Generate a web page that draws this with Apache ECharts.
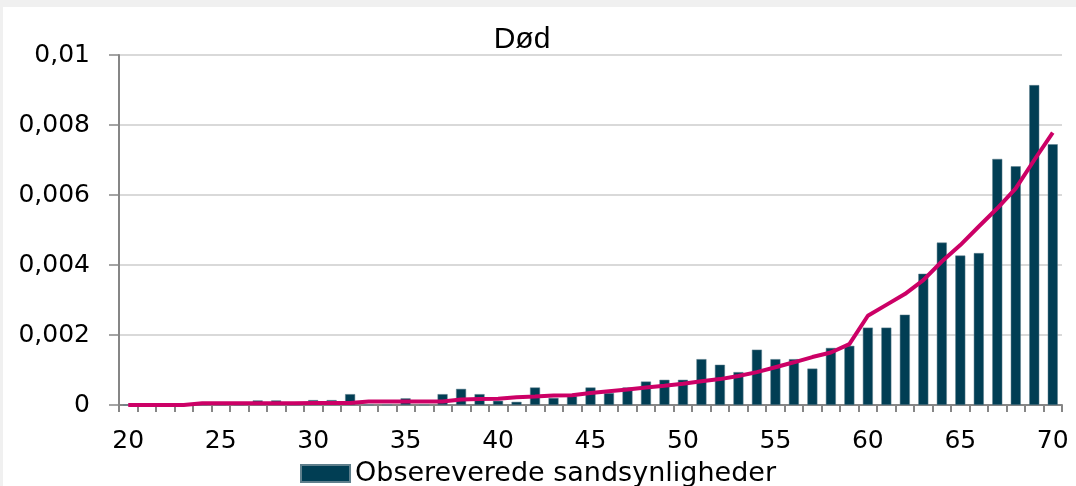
<!DOCTYPE html>
<html>
<head>
<meta charset="utf-8">
<script src="https://cdn.jsdelivr.net/npm/echarts@6/dist/echarts.min.js"></script>
<style>
html,body{margin:0;padding:0;background:#fff;}
#c{width:1076px;height:486px;}
</style>
</head>
<body>
<div id="c"></div>
<script>
const ages = [];
for (let a = 20; a <= 70; a++) ages.push(String(a));

const titleText = 'Død';
const barName = 'Obsereverede sandsynligheder';
const lineName = 'Model';

// observed probabilities (ages 20..70)
const observed = [
  0, 0, 0, 0, 0, 0, 0, 0.00013, 0.00013, 0,
  0.00014, 0.00014, 0.00031, 0, 0, 0.00019, 0, 0.00031, 0.00046, 0.00031,
  0.00012, 0.00009, 0.00050, 0.00020, 0.00025, 0.00050, 0.00034, 0.00050, 0.00067, 0.00072,
  0.00072, 0.00131, 0.00115, 0.00094, 0.00158, 0.00131, 0.00131, 0.00104, 0.00163, 0.00169,
  0.00221, 0.00221, 0.00258, 0.00375, 0.00464, 0.00427, 0.00434, 0.00703, 0.00682, 0.00914,
  0.00745
];

// fitted curve (ages 20..70)
const fitted = [
  0, 0, 0, 0, 0.00005, 0.00005, 0.00005, 0.00005, 0.00005, 0.00005,
  0.00006, 0.00006, 0.00006, 0.00010, 0.00010, 0.00010, 0.00010, 0.00010, 0.00016, 0.00017,
  0.00018, 0.00022, 0.00024, 0.00027, 0.00028, 0.00034, 0.00039, 0.00044, 0.00050, 0.00055,
  0.00061, 0.00068, 0.00074, 0.00083, 0.00094, 0.00108, 0.00122, 0.00137, 0.00150, 0.00174,
  0.00255, 0.00286, 0.00317, 0.00357, 0.00410, 0.00457, 0.00510, 0.00562, 0.00619, 0.00700,
  0.00778
];

const yMin = 0, yMax = 0.01, yStep = 0.002;

const chart = echarts.init(document.getElementById('c'), null, {renderer: 'canvas'});
chart.setOption({
  animation: false,
  backgroundColor: '#ffffff',
  graphic: [
    {type: 'rect', shape: {x: 0, y: 0, width: 1076, height: 7}, style: {fill: '#f0f0f0'}, z: -10},
    {type: 'rect', shape: {x: 0, y: 0, width: 3, height: 486}, style: {fill: '#f0f0f0'}, z: -10}
  ],
  title: {
    text: titleText,
    left: 517,
    textAlign: 'center',
    top: 20,
    textStyle: {fontFamily: 'Liberation Sans', fontSize: 30, fontWeight: 'normal', color: '#000'}
  },
  legend: {
    data: [barName],
    left: 'center',
    top: 455,
    itemWidth: 49,
    itemHeight: 17,
    itemGap: 8,
    icon: 'rect',
    textStyle: {fontFamily: 'DejaVu Sans', fontSize: 27, color: '#000', padding: [0, 0, 0, 0]}
  },
  grid: {left: 119, right: 14, top: 55, bottom: 81, containLabel: false},
  xAxis: {
    type: 'category',
    data: ages,
    boundaryGap: true,
    axisLine: {lineStyle: {color: '#868686', width: 2}},
    axisTick: {show: true, interval: 0, length: 7, lineStyle: {color: '#868686', width: 2}},
    axisLabel: {interval: 4, margin: 24, fontFamily: 'DejaVu Sans', fontSize: 25, color: '#000'},
    splitLine: {show: false}
  },
  yAxis: {
    type: 'value',
    min: yMin,
    max: yMax,
    interval: yStep,
    axisLine: {show: true, lineStyle: {color: '#868686', width: 2}},
    axisTick: {show: true, length: 10, lineStyle: {color: '#868686', width: 1.5}},
    axisLabel: {
      margin: 29,
      fontFamily: 'DejaVu Sans', fontSize: 25, color: '#000',
      formatter: v => v === 0 ? '0' : String(+v.toFixed(4)).replace('.', ',')
    },
    splitLine: {show: true, lineStyle: {color: '#d9d9d9', width: 2}}
  },
  series: [
    {
      name: barName,
      type: 'bar',
      data: observed,
      barWidth: 10,
      itemStyle: {color: '#013E54', borderColor: '#5f7f8c', borderWidth: 0.5}
    },
    {
      name: lineName,
      type: 'line',
      data: fitted,
      showSymbol: false,
      symbol: 'none',
      lineStyle: {color: '#CC0066', width: 4},
      itemStyle: {color: '#CC0066'},
      z: 5
    }
  ]
});
</script>
</body>
</html>
